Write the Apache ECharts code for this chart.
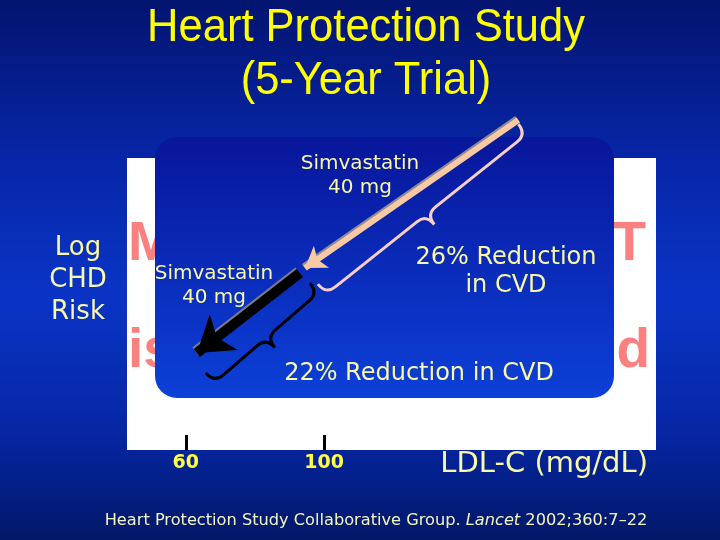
<!DOCTYPE html>
<html>
<head>
<meta charset="utf-8">
<script src="https://cdn.jsdelivr.net/npm/echarts@6/dist/echarts.min.js"></script>
<style>
html,body{margin:0;padding:0;}
#chart{width:720px;height:540px;}
</style>
</head>
<body>
<div id="chart"></div>
<script>
var myChart = echarts.init(document.getElementById('chart'));

// LDL-C tick values on the x axis
var xTicks = [60, 100];
// arrows: [LDL-C, log risk] start and end
var arrowFrom = [[156.2, 113.0], [93.0, 60.6]];
var arrowTo   = [[94.5, 62.3], [63.2, 33.2]];
// braces along each arrow
var braceFrom = [[156.2, 111.6], [95.9, 57.2]];
var braceTo   = [[98.2, 56.8], [65.8, 26.4]];
var braceColors = ['#f7cfc8', '#000000'];

var paleYellow = '#f8f8a8';
var textFont = 'DejaVu Sans';

//花括号路径（像素坐标）
function bracePath(a, b, h, r) {
    var dx = b[0] - a[0], dy = b[1] - a[1];
    var L = Math.sqrt(dx * dx + dy * dy);
    var tx = dx / L, ty = dy / L, nx = ty, ny = -tx;
    function p(u, v) {
        return (a[0] + tx * u + nx * v).toFixed(1) + ' ' + (a[1] + ty * u + ny * v).toFixed(1);
    }
    var m = L / 2;
    return 'M' + p(0, 0) + ' Q' + p(0, h) + ' ' + p(r, h) +
        ' L' + p(m - r, h) + ' Q' + p(m, h) + ' ' + p(m, 2 * h) +
        ' Q' + p(m, h) + ' ' + p(m + r, h) +
        ' L' + p(L - r, h) + ' Q' + p(L, h) + ' ' + p(L, 0);
}

var braceData = [];
for (var i = 0; i < braceFrom.length; i++) {
    braceData.push([braceFrom[i][0], braceFrom[i][1], braceTo[i][0], braceTo[i][1]]);
}

var arrowData = [
    {
        coords: [arrowFrom[0], arrowTo[0]],
        symbolSize: [0, 20],
        lineStyle: {color: '#f8c9a2', width: 6, opacity: 1, shadowColor: '#8a8a9a', shadowOffsetX: -1.5, shadowOffsetY: -1.5},
        itemStyle: {color: '#f8c9a2', opacity: 1}
    },
    {
        coords: [arrowFrom[1], arrowTo[1]],
        symbolSize: [0, 34],
        lineStyle: {color: '#000000', width: 10, opacity: 1, shadowColor: '#7a7a8a', shadowOffsetX: -1.5, shadowOffsetY: -1.5},
        itemStyle: {color: '#000000', opacity: 1}
    }
];

function txt(x, y, text, size, align) {
    return {
        type: 'text', x: x, y: y, z: 5,
        style: {
            text: text, fill: paleYellow, font: size + 'px "' + textFont + '"',
            textAlign: align || 'center', textVerticalAlign: 'middle'
        }
    };
}

function titleLine(y, text) {
    return {
        type: 'text', x: 366, y: y, z: 5, scaleX: 0.926,
        style: {
            text: text, fill: '#ffff00', font: '47px "Liberation Sans"',
            textAlign: 'center', textVerticalAlign: 'top'
        }
    };
}

function redText(x, y, text, align) {
    return {
        type: 'text', x: x, y: y, z: 1, z2: 0,
        style: {
            text: text, fill: '#fb8080', font: 'bold 55px "Liberation Sans"',
            textAlign: align, textVerticalAlign: 'bottom'
        }
    };
}

var option = {
    backgroundColor: {
        type: 'linear', x: 0, y: 0, x2: 0, y2: 1,
        colorStops: [
            {offset: 0, color: '#031470'},
            {offset: 0.3, color: '#0726a8'},
            {offset: 0.55, color: '#0a34c6'},
            {offset: 0.8, color: '#0626a4'},
            {offset: 1, color: '#021868'}
        ]
    },
    grid: {
        left: 127, right: 64, top: 158, bottom: 90,
        show: true, backgroundColor: '#ffffff', borderWidth: 0
    },
    xAxis: {
        type: 'value', min: 43, max: 196,
        name: 'LDL-C (mg/dL)', nameLocation: 'end', nameGap: -8,
        nameTextStyle: {
            color: paleYellow, fontSize: 29, fontFamily: textFont,
            align: 'right', verticalAlign: 'top', padding: [0, 0, 0, 0]
        },
        axisLine: {show: false},
        splitLine: {show: false},
        axisTick: {show: true, inside: true, length: 15, customValues: xTicks, lineStyle: {color: '#000', width: 3}},
        axisLabel: {customValues: xTicks, color: '#ffff40', fontWeight: 'bold', fontSize: 19, margin: 4, fontFamily: textFont}
    },
    yAxis: {
        type: 'value', min: 0, max: 100,
        axisLine: {show: false},
        axisTick: {show: false},
        axisLabel: {show: false},
        splitLine: {show: false}
    },
    graphic: {
        elements: [
            titleLine(5, 'Heart Protection Study'),
            titleLine(58, '(5-Year Trial)'),
            txt(78, 248, 'Log', 26),
            txt(78, 280, 'CHD', 26),
            txt(78, 312, 'Risk', 26),
            redText(128, 272, 'M', 'left'),
            redText(646, 272, 'T', 'right'),
            redText(128, 379, 'is', 'left'),
            redText(650, 379, 'd', 'right'),
            {
                type: 'rect', z: 1, z2: 10,
                shape: {x: 155, y: 137, width: 459, height: 261, r: 22},
                style: {
                    fill: {
                        type: 'linear', x: 0, y: 0, x2: 0, y2: 1,
                        colorStops: [{offset: 0, color: '#08169a'}, {offset: 1, color: '#0c40d8'}]
                    }
                }
            },
            txt(360, 164, 'Simvastatin', 20),
            txt(360, 188, '40 mg', 20),
            txt(214, 274, 'Simvastatin', 20),
            txt(214, 298, '40 mg', 20),
            txt(506, 258, '26% Reduction', 24),
            txt(506, 286, 'in CVD', 24),
            txt(419, 374, '22% Reduction in CVD', 24),
            {
                type: 'text', x: 376, y: 521, z: 5,
                style: {
                    text: '{a|Heart Protection Study Collaborative Group. }{i|Lancet}{a| 2002;360:7\u201322}',
                    textAlign: 'center', textVerticalAlign: 'middle',
                    rich: {
                        a: {fill: '#f4f4c0', fontSize: 16.2, fontFamily: textFont},
                        i: {fill: '#f4f4c0', fontSize: 16.2, fontFamily: textFont, fontStyle: 'italic'}
                    }
                }
            }
        ]
    },
    series: [
        {
            type: 'custom',
            coordinateSystem: 'cartesian2d',
            z: 3,
            data: braceData,
            renderItem: function (params, api) {
                var a = api.coord([api.value(0), api.value(1)]);
                var b = api.coord([api.value(2), api.value(3)]);
                return {
                    type: 'path',
                    shape: {pathData: bracePath(a, b, 13, 12)},
                    style: {fill: 'none', stroke: braceColors[params.dataIndex], lineWidth: 3}
                };
            }
        },
        {
            type: 'lines',
            coordinateSystem: 'cartesian2d',
            z: 4,
            clip: false,
            symbol: ['none', 'arrow'],
            lineStyle: {opacity: 1},
            data: arrowData
        }
    ]
};
myChart.setOption(option);
</script>
</body>
</html>
